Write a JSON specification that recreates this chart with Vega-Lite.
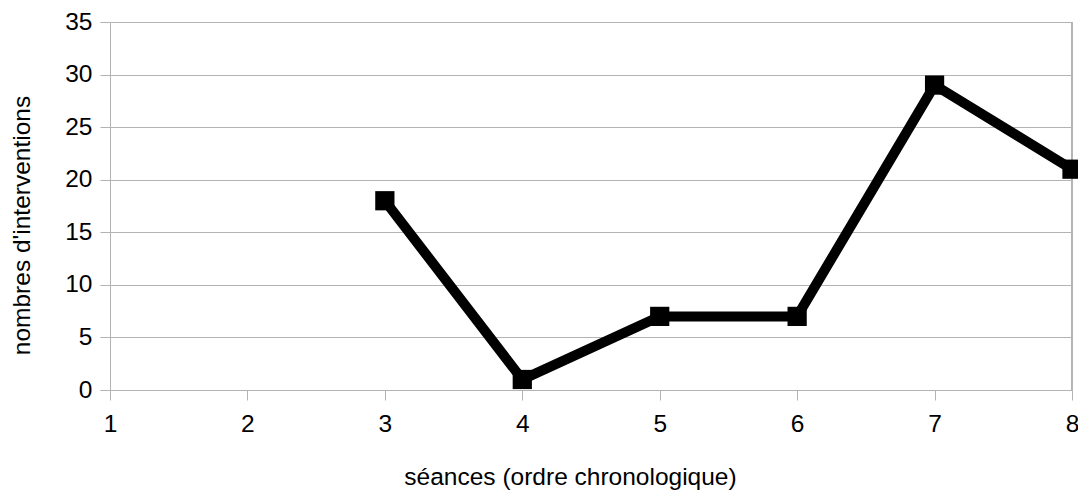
{
  "$schema": "https://vega.github.io/schema/vega-lite/v6.json",
  "width": 962,
  "height": 368,
  "autosize": {"type": "none"},
  "padding": {"left": 110, "top": 22, "right": 6, "bottom": 100},
  "background": "white",
  "config": {
    "view": {"stroke": null},
    "font": "Liberation Sans",
    "axis": {
      "labelFont": "Liberation Sans",
      "titleFont": "Liberation Sans",
      "labelColor": "black",
      "titleColor": "black",
      "titleFontWeight": "normal",
      "gridColor": "#b3b3b3",
      "gridWidth": 1,
      "domainColor": "#b3b3b3",
      "tickColor": "#b3b3b3",
      "tickSize": 10
    }
  },
  "data": {
    "values": [
      {"seance": 3, "n": 18},
      {"seance": 4, "n": 1},
      {"seance": 5, "n": 7},
      {"seance": 6, "n": 7},
      {"seance": 7, "n": 29},
      {"seance": 8, "n": 21}
    ]
  },
  "encoding": {
    "x": {
      "field": "seance",
      "type": "quantitative",
      "scale": {"domain": [1, 8], "nice": false},
      "axis": {
        "title": "séances (ordre chronologique)",
        "values": [1, 2, 3, 4, 5, 6, 7, 8],
        "grid": false,
        "labelFontSize": 24.5,
        "titleFontSize": 24.5,
        "labelPadding": 12,
        "titlePadding": 30,
        "titleX": 460,
        "titleAlign": "center",
        "labelFlush": false
      }
    },
    "y": {
      "field": "n",
      "type": "quantitative",
      "scale": {"domain": [0, 35], "nice": false},
      "axis": {
        "title": "nombres d'interventions",
        "values": [0, 5, 10, 15, 20, 25, 30, 35],
        "labelFontSize": 24.5,
        "titleFontSize": 24.5,
        "labelPadding": 8,
        "titlePadding": 30,
        "titleY": 203,
        "titleAlign": "center",
        "domain": true,
        "labelFlush": false
      }
    }
  },
  "layer": [
    {"mark": {"type": "rule", "color": "#b3b3b3", "strokeWidth": 1}, "encoding": {"x": {"datum": 8}, "y": {"datum": 0}, "y2": {"datum": 35}}},
    {"mark": {"type": "line", "color": "black", "strokeWidth": 10, "strokeJoin": "miter", "clip": false}},
    {"mark": {"type": "square", "color": "black", "size": 370, "opacity": 1, "filled": true, "clip": false}}
  ]
}
